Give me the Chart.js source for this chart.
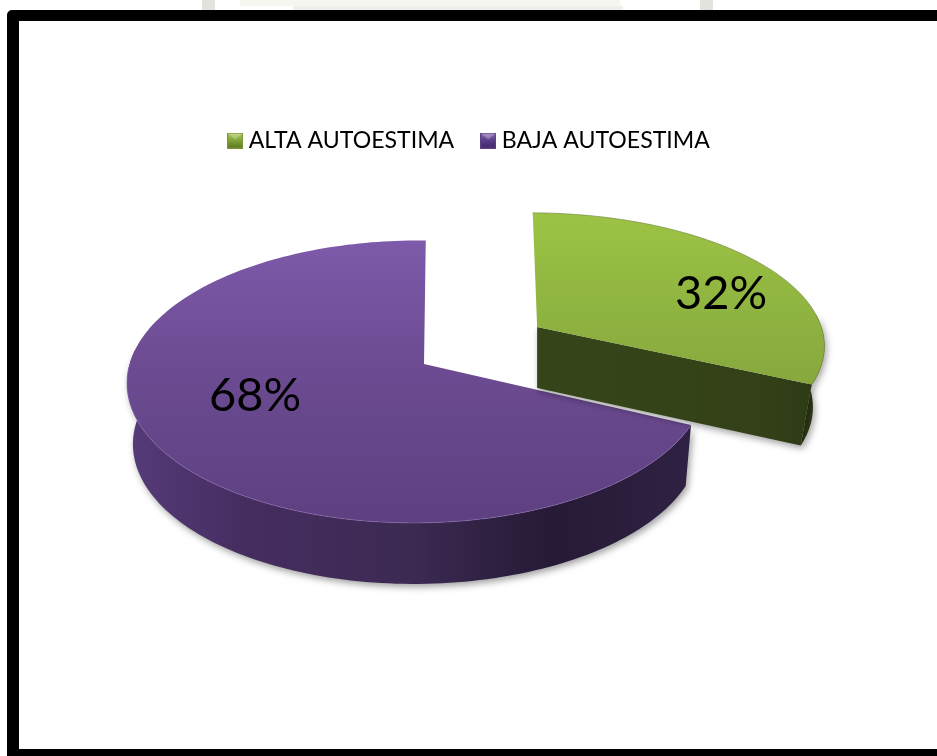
<!DOCTYPE html>
<html>
<head>
<meta charset="utf-8">
<style>html,body{margin:0;padding:0;background:#fff;overflow:hidden}#wrap{position:absolute;left:0;top:0;width:937px;height:756px}</style>
<script src="https://cdn.jsdelivr.net/npm/chart.js@4"></script>
</head>
<body>
<div id="wrap"><canvas id="c" width="937" height="756"></canvas></div>
<script>
const categories = ['ALTA AUTOESTIMA', 'BAJA AUTOESTIMA'];
const values = [32, 68];
const valueLabels = ['32%', '68%'];
const baseColors = ['#8fb23e', '#66488d'];

const FONT = 'Lato, Carlito, "Open Sans", sans-serif';
const CENTER = {x: 424, y: 364};
const TILT_OFFSET = 0.515;
const DEPTH = 61;
const views = [
  {rk: 129, p: 0.13, q: -0.01, skew: 5, low: 0.96},
  {rk: 139, p: 0.125, q: -0.025, skew: -2, low: 0.98}
];
const labelPos = [{x: 721, y: 294}, {x: 255, y: 396}];

function icon(top, mid, bot, edge) {
  const cv = document.createElement('canvas');
  cv.width = 16; cv.height = 16;
  const g = cv.getContext('2d');
  g.fillStyle = edge; g.fillRect(0, 0, 16, 16);
  const gr = g.createLinearGradient(0, 1, 0, 15);
  gr.addColorStop(0, top); gr.addColorStop(0.45, mid); gr.addColorStop(1, bot);
  g.fillStyle = gr; g.fillRect(1, 1, 14, 14);
  g.fillStyle = 'rgba(255,255,255,0.28)';
  g.beginPath(); g.moveTo(1, 1); g.lineTo(15, 1); g.lineTo(8, 7); g.closePath(); g.fill();
  return cv;
}
const icons = [icon('#a4c652', '#86a83a', '#5e7a22', '#7b9638'), icon('#8468ae', '#5e3f8c', '#43296c', '#5c4186')];

const frame = {
  id: 'frame',
  beforeDraw(chart) {
    const c = chart.ctx;
    c.save();
    c.fillStyle = '#fff'; c.fillRect(0, 0, 937, 756);
    c.fillStyle = '#e0e4dc';
    c.fillRect(202, 0, 13, 10); c.fillRect(700, 0, 13, 10);
    c.fillStyle = '#eeeeea';
    c.fillRect(293, 6, 330, 4);
    c.fillStyle = '#f6f6f0';
    c.fillRect(240, 0, 380, 6);
    c.fillStyle = '#000';
    c.beginPath();
    c.roundRect(7, 10, 960, 770, 5);
    c.rect(19, 21, 960, 728);
    c.fill('evenodd');
    c.restore();
  }
};

function projector(el, i) {
  const v = views[i];
  const R = el.outerRadius;
  const off = el.options.offset || 0;
  const mid = (el.startAngle + el.endAngle) / 2;
  const ax = CENTER.x + off * Math.cos(mid);
  const ay = CENTER.y + off * Math.sin(mid) * TILT_OFFSET;
  const top = (a) => {
    const cu = Math.cos(a), sv = Math.sin(a);
    const s = 1 / (1 - v.p * sv - v.q * cu);
    return [ax + (R * cu + v.skew * sv) * s, ay + v.rk * sv * s];
  };
  const bottom = (p) => [ax + (p[0] - ax) * v.low, p[1] + DEPTH];
  return {ax, ay, top, bottom};
}
function samples(el, P, front) {
  const pts = [], n = 180;
  for (let k = 0; k <= n; k++) {
    const a = el.startAngle + (el.endAngle - el.startAngle) * k / n;
    if (!front || Math.sin(a) > -0.1) pts.push(P.top(a));
  }
  return pts;
}
function poly(c, pts) {
  c.beginPath();
  pts.forEach((p, k) => k ? c.lineTo(p[0], p[1]) : c.moveTo(p[0], p[1]));
}

const pie3d = {
  id: 'pie3d',
  beforeDatasetsDraw(chart) {
    const c = chart.ctx;
    const arcs = chart.getDatasetMeta(0).data;
    c.save();
    [1, 0].forEach((i) => {
      const el = arcs[i];
      const P = projector(el, i);
      const rim = samples(el, P, false);
      const wall = samples(el, P, true);
      const low = wall.map(P.bottom);
      const apex = [P.ax, P.ay];
      const apexLow = P.bottom(apex);

      // outer wall with soft drop shadow
      c.save();
      c.shadowColor = 'rgba(0,0,0,0.38)';
      c.shadowBlur = 7; c.shadowOffsetX = 2; c.shadowOffsetY = 3;
      let gw;
      if (i === 1) {
        gw = c.createLinearGradient(133, 0, 690, 0);
        gw.addColorStop(0, '#553a78'); gw.addColorStop(0.2, '#452d60');
        gw.addColorStop(0.5, '#3c2a52'); gw.addColorStop(0.75, '#261a36');
        gw.addColorStop(1, '#2f2143');
      } else {
        gw = c.createLinearGradient(537, 0, 810, 0);
        gw.addColorStop(0, '#364519'); gw.addColorStop(0.8, '#344118'); gw.addColorStop(1, '#2f3b15');
      }
      c.fillStyle = gw;
      poly(c, wall.concat(low.slice().reverse())); c.closePath(); c.fill();
      if (i === 0) {
        const corner = wall[wall.length - 1], cornerLow = low[low.length - 1];
        poly(c, [apex, corner, cornerLow, apexLow]); c.closePath(); c.fill();
      }
      c.restore();

      // top face
      const minY = Math.min(...rim.map(p => p[1])), maxY = Math.max(P.ay, ...rim.map(p => p[1]));
      const gt = c.createLinearGradient(0, minY, 0, maxY);
      if (i === 1) {
        gt.addColorStop(0, '#7e5aaa'); gt.addColorStop(0.45, '#6c4b92'); gt.addColorStop(1, '#5e4080');
      } else {
        gt.addColorStop(0, '#9cc344'); gt.addColorStop(1, '#86a83e');
      }
      c.fillStyle = gt;
      poly(c, [apex].concat(rim)); c.closePath(); c.fill();
      c.lineWidth = 1;
      c.strokeStyle = i === 1 ? 'rgba(140,110,180,0.55)' : 'rgba(120,140,70,0.7)';
      poly(c, rim.filter(p => i === 0 || p[1] > P.ay)); c.stroke();
    });
    c.fillStyle = '#000';
    c.font = '47px ' + FONT;
    c.textAlign = 'center'; c.textBaseline = 'middle';
    valueLabels.forEach((t, i) => c.fillText(t, labelPos[i].x, labelPos[i].y));
    c.restore();
    return false;
  }
};

new Chart(document.getElementById('c'), {
  type: 'pie',
  data: {
    labels: categories,
    datasets: [{data: values, backgroundColor: baseColors, offset: [134, 0], borderWidth: 0}]
  },
  options: {
    responsive: false,
    animation: false,
    radius: 287,
    layout: {padding: {top: 97, left: 6}},
    events: [],
    plugins: {
      tooltip: {enabled: false},
      legend: {
        position: 'top',
        labels: {
          usePointStyle: true,
          pointStyleWidth: 4,
          boxHeight: 16,
          padding: 32,
          color: '#000',
          font: {family: FONT, size: 23.1},
          generateLabels: (chart) => categories.map((t, i) => ({
            text: t, pointStyle: icons[i], fillStyle: baseColors[i], strokeStyle: baseColors[i],
            lineWidth: 0, hidden: false, index: i, datasetIndex: 0
          }))
        }
      }
    }
  },
  plugins: [frame, pie3d]
});
</script>
</body>
</html>
